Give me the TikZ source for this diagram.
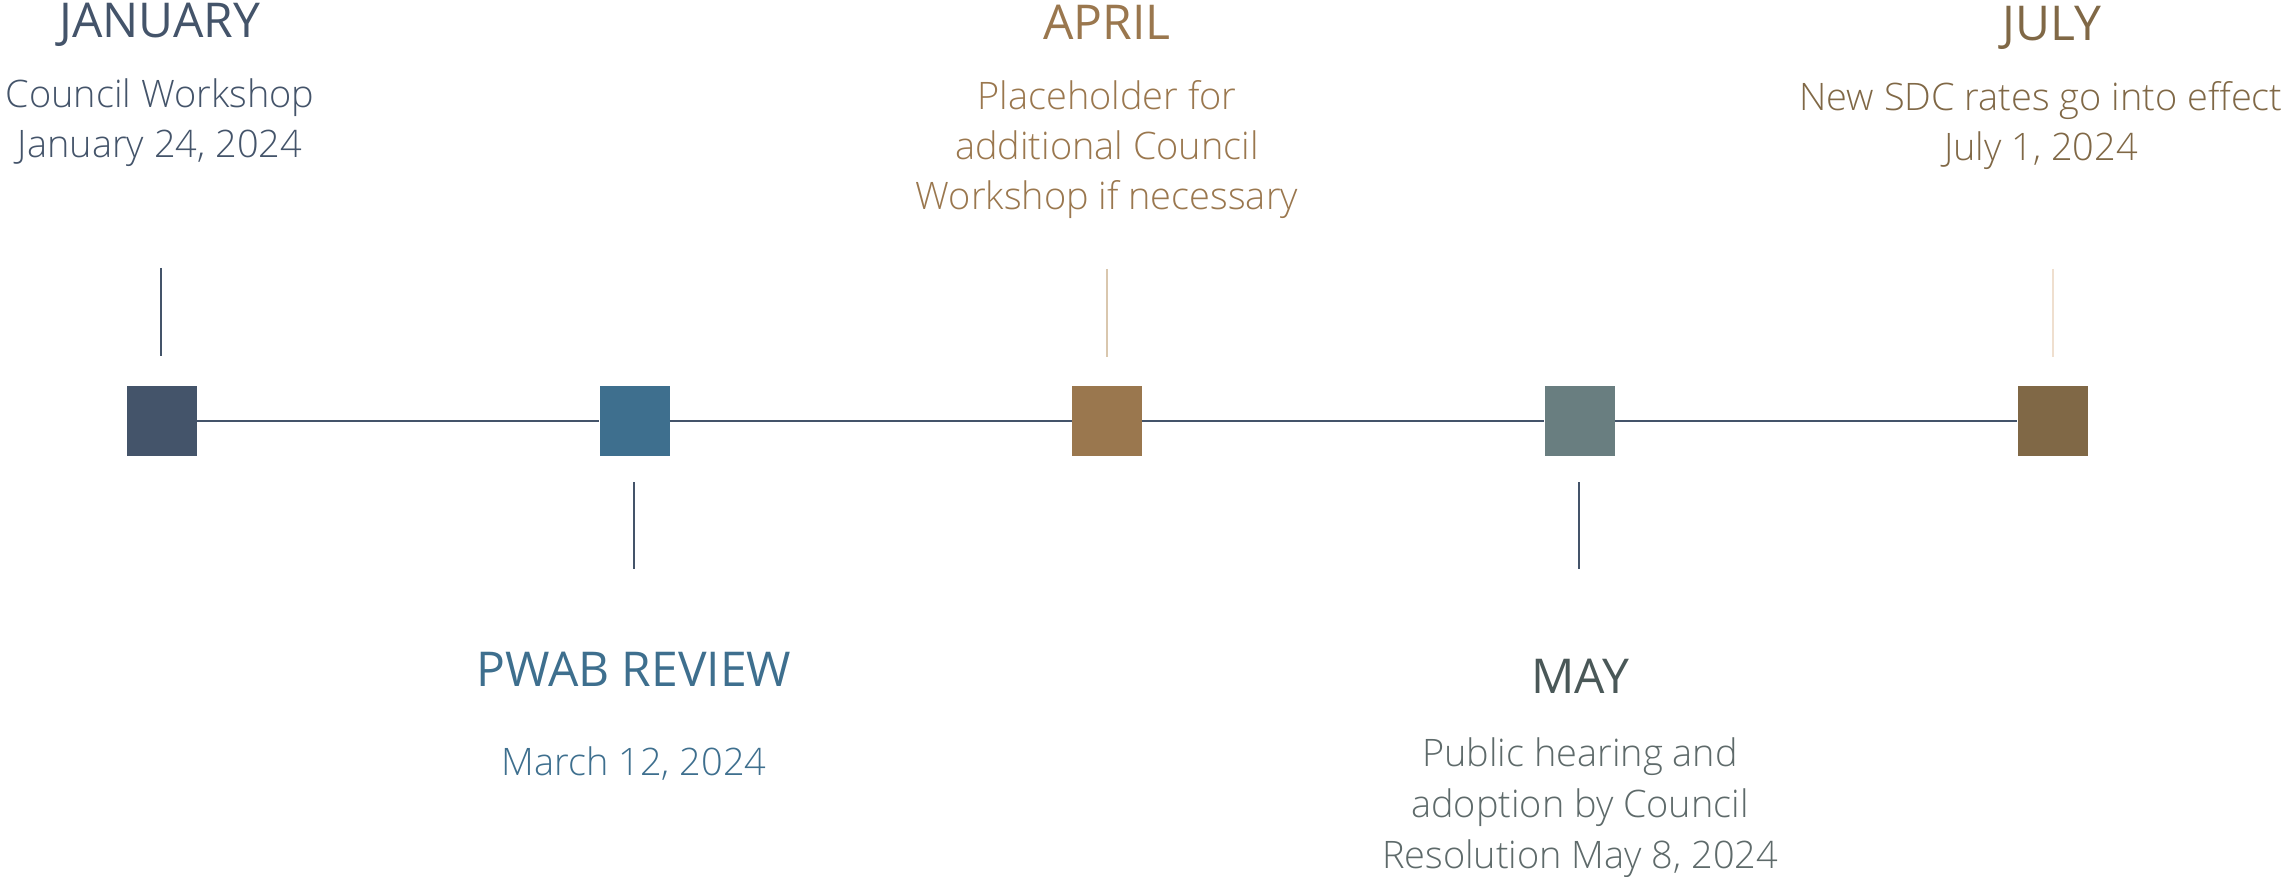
\documentclass[tikz,border=0pt]{standalone}
\usepackage{fontspec}
\setmainfont{Open Sans}
\newfontfamily\lightfont{Open Sans Light}
\definecolor{cjan}{HTML}{44546A}
\definecolor{cpwab}{HTML}{3E6F8E}
\definecolor{capr}{HTML}{9A774E}
\definecolor{caprtick}{HTML}{D9C7AE}
\definecolor{cmaysq}{HTML}{697E80}
\definecolor{cmayt}{HTML}{4A5858}
\definecolor{cmayb}{HTML}{5E6A6A}
\definecolor{cjul}{HTML}{806846}
\definecolor{cjultick}{HTML}{EFDFCF}
\tikzset{
  sq/.style={rectangle, minimum size=35pt, inner sep=0pt, draw=none},
  title/.style={anchor=base, inner sep=0pt, font=\fontsize{24}{29}\selectfont},
  body/.style={anchor=base, inner sep=0pt, font=\lightfont\fontsize{18.95}{25}\selectfont},
  tl/.style={line width=0.65pt, draw=cjan},
  tick/.style={line width=0.7pt}
}
\begin{document}
\begin{tikzpicture}[x=0.5pt, y=-0.5pt]
\useasboundingbox (0,0) rectangle (2287,877);
% squares
\node[sq, fill=cjan]   (jan) at (162,421) {};
\node[sq, fill=cpwab]  (pwab) at (634.5,421) {};
\node[sq, fill=capr]   (apr) at (1107,421) {};
\node[sq, fill=cmaysq] (may) at (1579.5,421) {};
\node[sq, fill=cjul]   (jul) at (2052.5,421) {};
% timeline
\draw[tl] (jan) -- (pwab);
\draw[tl] (pwab) -- (apr);
\draw[tl] (apr) -- (may);
\draw[tl] (may) -- (jul);
% ticks
\coordinate (jant1) at (161,268); \coordinate (jant2) at (161,356);
\coordinate (pwabt1) at (634,482); \coordinate (pwabt2) at (634,569);
\coordinate (aprt1) at (1107,269); \coordinate (aprt2) at (1107,357);
\coordinate (mayt1) at (1579,482); \coordinate (mayt2) at (1579,569);
\coordinate (jult1) at (2053,269); \coordinate (jult2) at (2053,357);
\draw[tick, cjan] (jant1) -- (jant2);
\draw[tick, cjan] (pwabt1) -- (pwabt2);
\draw[tick, caprtick, line width=1pt] (aprt1) -- (aprt2);
\draw[tick, cjan] (mayt1) -- (mayt2);
\draw[tick, cjultick] (jult1) -- (jult2);
% January
\node[title, text=cjan] (jantitle) at (160,38) {JANUARY};
\node[body, text=cjan] (janb1) at (160,108) {Council Workshop};
\node[body, text=cjan] (janb2) at (160,158) {January 24, 2024};
% PWAB
\node[title, text=cpwab] (pwabtitle) at (634,686) {PWAB REVIEW};
\node[body, text=cpwab] (pwabb1) at (634,775) {March 12, 2024};
% April
\node[title, text=capr] (aprtitle) at (1107,40) {APRIL};
\node[body, text=capr] (aprb1) at (1107,110) {Placeholder for};
\node[body, text=capr] (aprb2) at (1107,160) {additional Council};
\node[body, text=capr] (aprb3) at (1107,210) {Workshop if necessary};
% May
\node[title, text=cmayt] (maytitle) at (1580,693) {MAY};
\node[body, text=cmayb] (mayb1) at (1580,766) {Public hearing and};
\node[body, text=cmayb] (mayb2) at (1580,817) {adoption by Council};
\node[body, text=cmayb] (mayb3) at (1580,868) {Resolution May 8, 2024};
% July
\node[title, text=cjul] (jultitle) at (2052,41) {JULY};
\node[body, text=cjul] (julb1) at (2041,111) {New SDC rates go into effect};
\node[body, text=cjul] (julb2) at (2041,161) {July 1, 2024};
\end{tikzpicture}
\end{document}
